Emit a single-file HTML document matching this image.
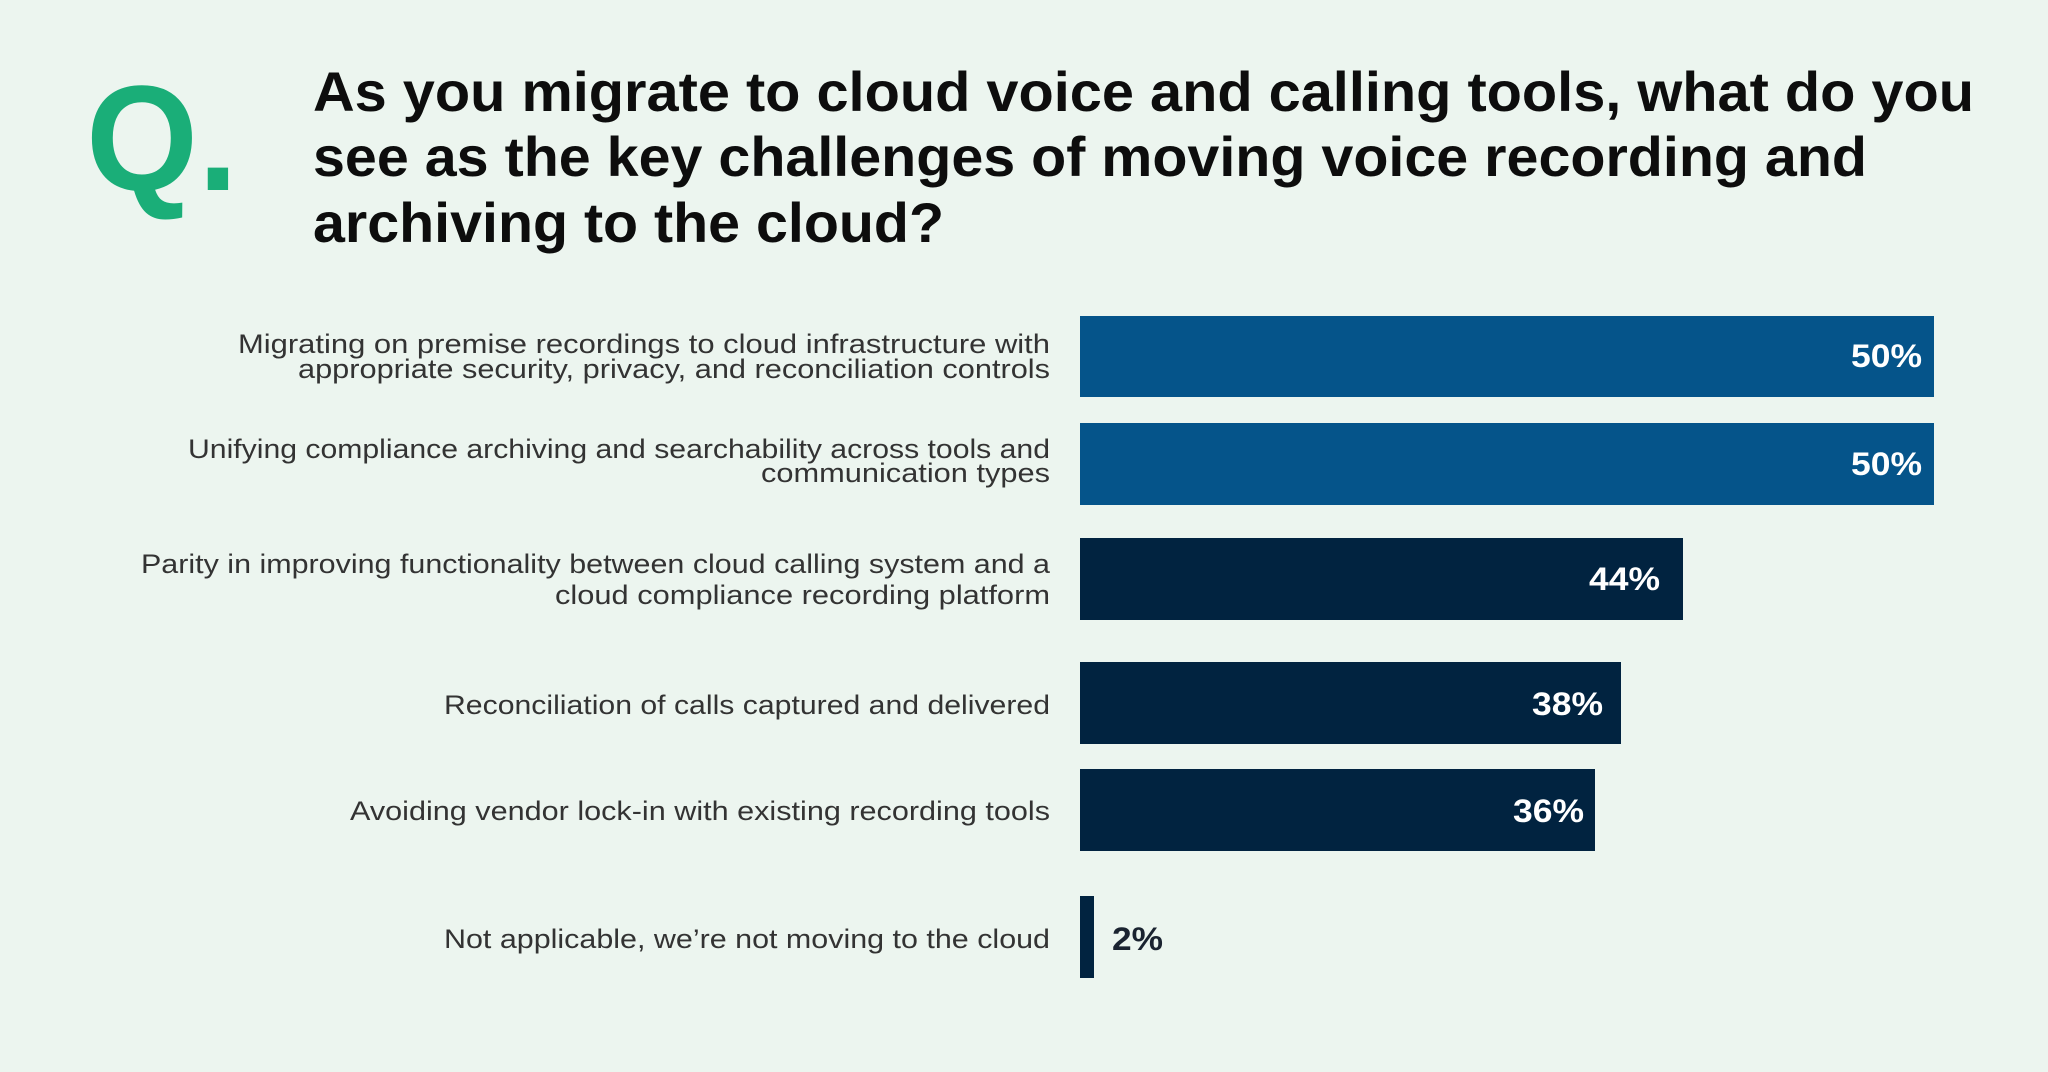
<!DOCTYPE html>
<html><head><meta charset="utf-8"><style>
html,body{margin:0;padding:0;background:#ecf5ef;}
svg{display:block}
</style></head><body>
<svg width="2048" height="1072" viewBox="0 0 2048 1072" xmlns="http://www.w3.org/2000/svg">
<rect width="2048" height="1072" fill="#ecf5ef"/>
<text x="86" y="190" font-family="Liberation Sans, sans-serif" font-weight="bold" font-size="150" fill="#1aae78" textLength="152" lengthAdjust="spacingAndGlyphs">Q.</text>
<g font-family="Liberation Sans, sans-serif" font-weight="bold" font-size="56" fill="#0d0d0d">
<text x="313" y="111" textLength="1661" lengthAdjust="spacingAndGlyphs">As you migrate to cloud voice and calling tools, what do you</text>
<text x="313" y="176" textLength="1554" lengthAdjust="spacingAndGlyphs">see as the key challenges of moving voice recording and</text>
<text x="313" y="242" textLength="631" lengthAdjust="spacingAndGlyphs">archiving to the cloud?</text>
</g>
<g font-family="Liberation Sans, sans-serif" font-size="27" fill="#333" text-anchor="end">
<text x="1050" y="353" textLength="812" lengthAdjust="spacingAndGlyphs">Migrating on premise recordings to cloud infrastructure with</text>
<text x="1050" y="378" textLength="752" lengthAdjust="spacingAndGlyphs">appropriate security, privacy, and reconciliation controls</text>
<text x="1050" y="458" textLength="862" lengthAdjust="spacingAndGlyphs">Unifying compliance archiving and searchability across tools and</text>
<text x="1050" y="482" textLength="289" lengthAdjust="spacingAndGlyphs">communication types</text>
<text x="1050" y="573" textLength="909" lengthAdjust="spacingAndGlyphs">Parity in improving functionality between cloud calling system and a</text>
<text x="1050" y="604" textLength="495" lengthAdjust="spacingAndGlyphs">cloud compliance recording platform</text>
<text x="1050" y="714" textLength="606" lengthAdjust="spacingAndGlyphs">Reconciliation of calls captured and delivered</text>
<text x="1050" y="820" textLength="700" lengthAdjust="spacingAndGlyphs">Avoiding vendor lock-in with existing recording tools</text>
<text x="1050" y="948" textLength="606" lengthAdjust="spacingAndGlyphs">Not applicable, we’re not moving to the cloud</text>
</g>
<rect x="1080" y="316" width="854" height="81" fill="#05548a"/>
<rect x="1080" y="423" width="854" height="82" fill="#05548a"/>
<rect x="1080" y="538" width="603" height="82" fill="#012340"/>
<rect x="1080" y="662" width="541" height="82" fill="#012340"/>
<rect x="1080" y="769" width="515" height="82" fill="#012340"/>
<rect x="1080" y="896" width="14" height="82" fill="#012340"/>
<g font-family="Liberation Sans, sans-serif" font-weight="bold" font-size="32" fill="#fff" text-anchor="end">
<text x="1922" y="367" textLength="71" lengthAdjust="spacingAndGlyphs">50%</text>
<text x="1922" y="475" textLength="71" lengthAdjust="spacingAndGlyphs">50%</text>
<text x="1660" y="590" textLength="71" lengthAdjust="spacingAndGlyphs">44%</text>
<text x="1603" y="715" textLength="71" lengthAdjust="spacingAndGlyphs">38%</text>
<text x="1584" y="822" textLength="71" lengthAdjust="spacingAndGlyphs">36%</text>
</g>
<text x="1112" y="950" font-family="Liberation Sans, sans-serif" font-weight="bold" font-size="32" fill="#1a2330" textLength="51" lengthAdjust="spacingAndGlyphs">2%</text>
</svg>
</body></html>
